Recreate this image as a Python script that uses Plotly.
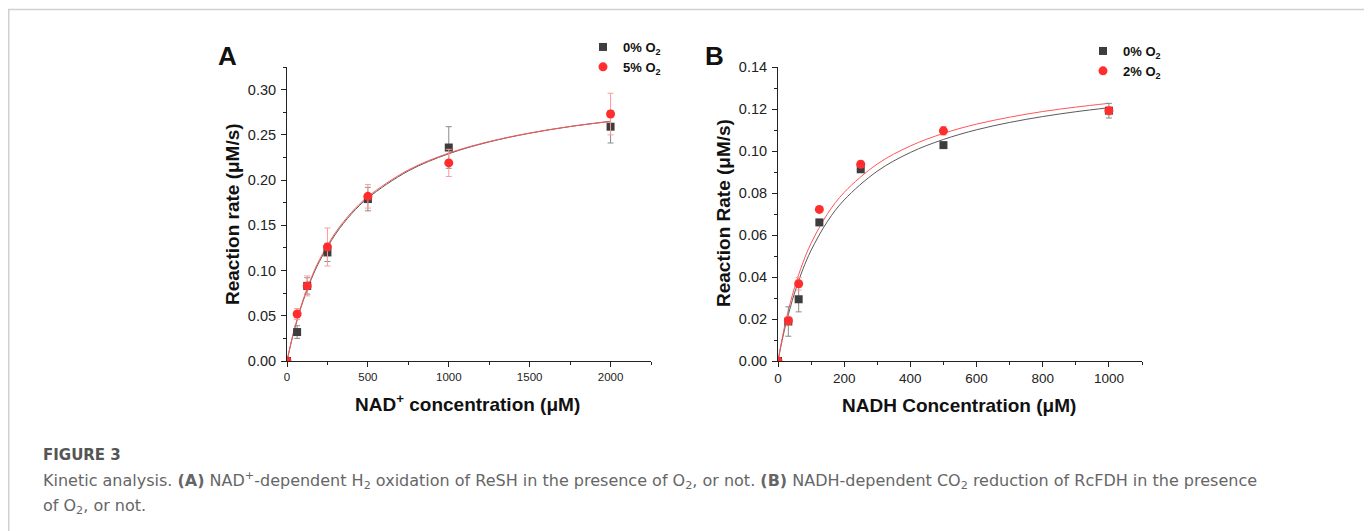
import plotly.graph_objects as go

# page is 1372x531; the html body has an 8px margin, so the figure is 8px smaller
OFF = 8
W, H = 1372 - OFF, 531 - OFF

# ---------------- data: panel A (NAD+ / ReSH) ----------------
conc_A = [0, 62.5, 125, 250, 500, 1000, 2000]
rate_A_0 = [0.0, 0.032, 0.083, 0.120, 0.179, 0.236, 0.259]
err_A_0 = [0.0, 0.007, 0.009, 0.010, 0.013, 0.023, 0.018]
rate_A_5 = [0.0, 0.052, 0.083, 0.126, 0.182, 0.219, 0.273]
err_A_5 = [0.0, 0.006, 0.011, 0.021, 0.013, 0.015, 0.023]

# fitted curves
fit_x_A = [0, 25, 50, 100, 150, 200, 300, 400, 500, 750, 1000, 1250, 1500, 1750, 2000]
fit_A_0 = [0.0, 0.0198, 0.0372, 0.0666, 0.0903, 0.1099, 0.1403, 0.1629, 0.1802,
           0.2101, 0.2291, 0.2422, 0.2518, 0.2592, 0.2650]
fit_A_5 = [0.0, 0.0203, 0.0381, 0.0679, 0.0919, 0.1116, 0.1421, 0.1645, 0.1817,
           0.2112, 0.2298, 0.2426, 0.2520, 0.2592, 0.2648]

# ---------------- data: panel B (NADH / RcFDH) ----------------
conc_B = [0, 31.25, 62.5, 125, 250, 500, 1000]
rate_B_0 = [0.0, 0.0188, 0.0294, 0.0660, 0.0913, 0.1028, 0.1192]
err_B_0 = [0.0, 0.0070, 0.0060, 0.0010, 0.0010, 0.0010, 0.0035]
rate_B_2 = [0.0, 0.0192, 0.0368, 0.0722, 0.0937, 0.1096, 0.1192]
err_B_2 = [0.0, 0.0020, 0.0030, 0.0010, 0.0015, 0.0020, 0.0020]

fit_x_B = [0, 12.5, 25, 50, 75, 100, 150, 200, 300, 400, 500, 600, 700, 800, 900, 1000]
fit_B_0 = [0.0, 0.0098, 0.0183, 0.0324, 0.0436, 0.0527, 0.0666, 0.0767, 0.0904,
           0.0993, 0.1055, 0.1101, 0.1136, 0.1164, 0.1187, 0.1206]
fit_B_2 = [0.0, 0.0107, 0.0200, 0.0350, 0.0467, 0.0561, 0.0702, 0.0803, 0.0938,
           0.1024, 0.1084, 0.1128, 0.1161, 0.1188, 0.1209, 0.1227]

GRAY = "#3d3d3d"
GRAY_ERR = "#8a8a8a"
GRAY_LINE = "#5a5a5a"
RED = "#ff2d2d"
RED_ERR = "#ff9a9a"
RED_LINE = "#ff5555"
FONT = "Arial, Liberation Sans, sans-serif"


def px(x):
    return (x - OFF) / W


def py(y):
    return 1 - (y - OFF) / H


fig = go.Figure()


def add_panel(xa, ya, conc, r0, e0, r1, e1, fx, f0, f1, name0, name1, legend):
    fig.add_trace(go.Scatter(x=fx, y=f0, mode="lines", line=dict(color=GRAY_LINE, width=1, shape="spline"),
                             xaxis=xa, yaxis=ya, showlegend=False, hoverinfo="skip"))
    fig.add_trace(go.Scatter(x=fx, y=f1, mode="lines", line=dict(color=RED_LINE, width=1, shape="spline"),
                             xaxis=xa, yaxis=ya, showlegend=False, hoverinfo="skip"))
    fig.add_trace(go.Scatter(x=conc, y=r0, mode="markers", name=name0,
                             marker=dict(symbol="square", size=8, color=GRAY),
                             error_y=dict(type="data", array=e0, color=GRAY_ERR, thickness=1, width=3),
                             xaxis=xa, yaxis=ya, legend=legend))
    fig.add_trace(go.Scatter(x=conc, y=r1, mode="markers", name=name1,
                             marker=dict(symbol="circle", size=9, color=RED),
                             error_y=dict(type="data", array=e1, color=RED_ERR, thickness=1, width=3),
                             xaxis=xa, yaxis=ya, legend=legend))


add_panel("x", "y", conc_A, rate_A_0, err_A_0, rate_A_5, err_A_5, fit_x_A, fit_A_0, fit_A_5,
          "<b>0% O<sub>2</sub></b>", "<b>5% O<sub>2</sub></b>", "legend")
add_panel("x2", "y2", conc_B, rate_B_0, err_B_0, rate_B_2, err_B_2, fit_x_B, fit_B_0, fit_B_2,
          "<b>0% O<sub>2</sub></b>", "<b>2% O<sub>2</sub></b>", "legend2")

axis_common = dict(showline=True, linecolor="#222", linewidth=1, ticks="outside", ticklen=5,
                   tickcolor="#222", tickwidth=1, showgrid=False, zeroline=False, automargin=False,
                   mirror=False)
minor_common = dict(ticklen=3, ticks="outside", tickcolor="#222", showgrid=False)

fig.update_layout(
    width=W, height=H, autosize=False,
    margin=dict(l=0, r=0, t=0, b=0),
    paper_bgcolor="white", plot_bgcolor="white",
    font=dict(family=FONT, color="#222"),
    xaxis=dict(domain=[px(287), px(651)], range=[0, 2250], anchor="y", dtick=500, tick0=0,
               tickfont=dict(size=11.5, family=FONT, color="#222"),
               minor=dict(dtick=250, **minor_common), **axis_common),
    yaxis=dict(domain=[py(361), py(67)], range=[0, 0.325], anchor="x", dtick=0.05, tick0=0,
               tickformat=".2f", tickfont=dict(size=14.5, family=FONT, color="#222"),
               ticklabelstandoff=2,
               minor=dict(dtick=0.025, **minor_common), **axis_common),
    xaxis2=dict(domain=[px(778), px(1142)], range=[0, 1100], anchor="y2", dtick=200, tick0=0,
                tickfont=dict(size=13.5, family=FONT, color="#222"),
                minor=dict(dtick=100, **minor_common), **axis_common),
    yaxis2=dict(domain=[py(361), py(67)], range=[0, 0.14], anchor="x2", dtick=0.02, tick0=0,
                tickformat=".2f", tickfont=dict(size=14.5, family=FONT, color="#222"),
                ticklabelstandoff=2,
                minor=dict(dtick=0.01, **minor_common), **axis_common),
    legend=dict(x=px(583), y=py(32), xanchor="left", yanchor="top", bgcolor="rgba(0,0,0,0)",
                font=dict(size=13, family=FONT, color="#111"), tracegroupgap=0, itemwidth=30),
    legend2=dict(x=px(1083), y=py(36), xanchor="left", yanchor="top", bgcolor="rgba(0,0,0,0)",
                 font=dict(size=13, family=FONT, color="#111"), tracegroupgap=0, itemwidth=30),
)

ann = []


def text(x, y, s, size, color="#111", angle=0, xanchor="center", family=FONT, weight=None):
    d = dict(x=px(x), y=py(y), xref="paper", yref="paper", text=s, showarrow=False,
             xanchor=xanchor, yanchor="middle", textangle=angle,
             font=dict(size=size, color=color, family=family))
    if weight:
        d["font"]["weight"] = weight
    ann.append(d)


text(227, 56, "<b>A</b>", 26)
text(714, 56, "<b>B</b>", 26)
text(232, 214, "<b>Reaction rate (μM/s)</b>", 19, angle=-90)
text(723, 213, "<b>Reaction Rate (μM/s)</b>", 19, angle=-90)
text(468, 403, "<b>NAD<sup>+</sup> concentration (μM)</b>", 19)
text(959, 405, "<b>NADH Concentration (μM)</b>", 19)

CAP = "DejaVu Sans, Open Sans, sans-serif"
text(41, 455, "FIGURE 3", 15, color="#555", xanchor="left", family=CAP, weight=600)
text(41, 480, "Kinetic analysis. <b>(A)</b> NAD<sup>+</sup>-dependent H<sub>2</sub> oxidation of ReSH in the presence of "
              "O<sub>2</sub>, or not. <b>(B)</b> NADH-dependent CO<sub>2</sub> reduction of RcFDH in the presence",
     16, color="#666", xanchor="left", family=CAP)
text(41, 506, "of O<sub>2</sub>, or not.", 16, color="#666", xanchor="left", family=CAP)

fig.update_layout(annotations=ann)

# card frame
fig.add_shape(type="rect", xref="paper", yref="paper", x0=px(8.75), x1=px(1369), y0=py(560), y1=py(9.5),
              line=dict(color="#d0d0d0", width=1.5), fillcolor="rgba(0,0,0,0)", layer="below")

fig.write_html("out.html")
